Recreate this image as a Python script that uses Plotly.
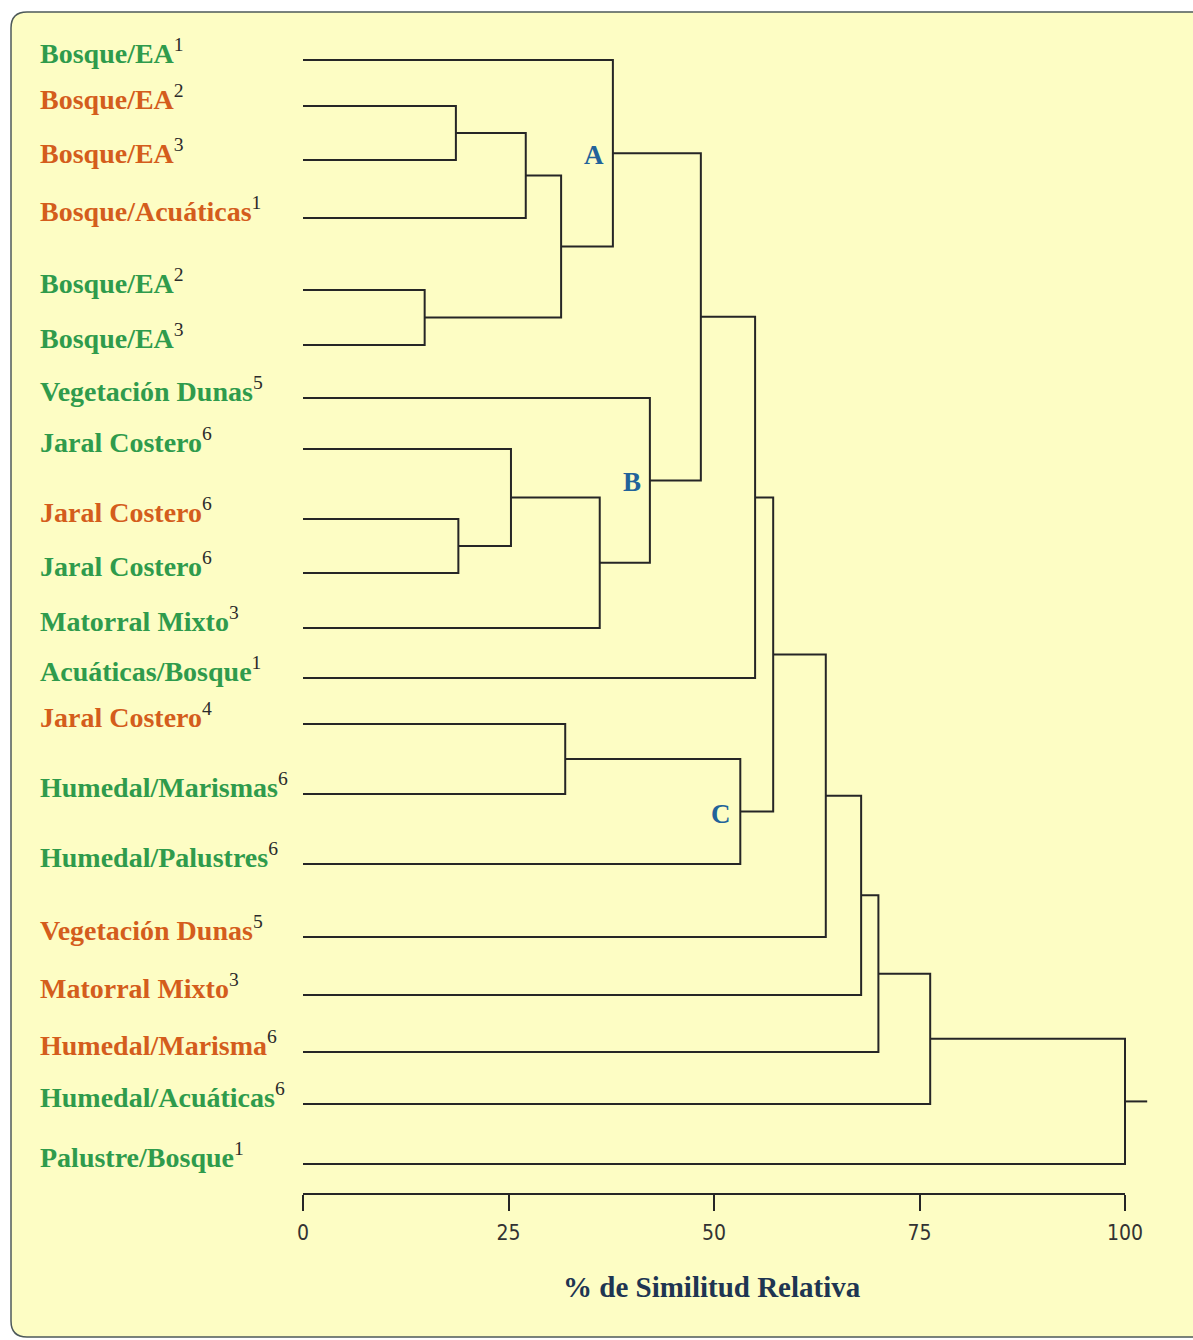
import plotly.graph_objects as go

# ---- leaves (top to bottom) -------------------------------------------
leaf_names = [
    "Bosque/EA", "Bosque/EA", "Bosque/EA", "Bosque/Acuáticas",
    "Bosque/EA", "Bosque/EA", "Vegetación Dunas", "Jaral Costero",
    "Jaral Costero", "Jaral Costero", "Matorral Mixto", "Acuáticas/Bosque",
    "Jaral Costero", "Humedal/Marismas", "Humedal/Palustres",
    "Vegetación Dunas", "Matorral Mixto", "Humedal/Marisma",
    "Humedal/Acuáticas", "Palustre/Bosque",
]
leaf_refs = ["1", "2", "3", "1", "2", "3", "5", "6", "6", "6",
             "3", "1", "4", "6", "6", "5", "3", "6", "6", "1"]
leaf_group = ["g", "o", "o", "o", "g", "g", "g", "g", "o", "g",
              "g", "g", "o", "g", "g", "o", "o", "o", "g", "g"]

# ---- linkage: (left node, right node, % relative similarity) ----------
# node ids 0..19 are leaves, 20+ are the clusters in creation order
merge_left = [1, 20, 4, 21, 0, 8, 7, 26, 6, 24, 29, 12, 31, 30, 33, 34, 35, 36, 37]
merge_right = [2, 3, 5, 22, 23, 9, 25, 10, 27, 28, 11, 13, 14, 32, 15, 16, 17, 18, 19]
merge_height = [18.6, 27.1, 14.8, 31.4, 37.7, 18.9, 25.3, 36.1, 42.2, 48.4,
                 55.0, 31.9, 53.2, 57.2, 63.6, 67.9, 70.0, 76.3, 100.0]

# cluster names written beside their junction
cluster_names = {24: "A", 28: "B", 32: "C"}

axis_ticks = [0, 25, 50, 75, 100]
axis_title = "% de Similitud Relativa"

# ---- layout constants ---------------------------------------------------
W, H = 1193, 1340
ROW_Y = [60, 106, 160, 218, 290, 345, 398, 449, 519, 573,
         628, 678, 724, 794, 864, 937, 995, 1052, 1104, 1164]
AXIS_PX = 1193            # vertical pixel of the similarity axis
X0_PX, X100_PX = 303, 1125
PX_PER_UNIT = (X100_PX - X0_PX) / 100.0
X_RANGE = [-X0_PX / PX_PER_UNIT, (W - X0_PX) / PX_PER_UNIT]
ROOT_TAIL = 2.7

GREEN = "#2f9b4c"
ORANGE = "#d45d1c"
LINE = "#262626"
BLUE = "#22639a"
BG = "#fdfdc4"
SERIF = "Liberation Serif, Times New Roman, serif"

colour = {"g": GREEN, "o": ORANGE}

# ---- dendrogram geometry ------------------------------------------------
n = len(leaf_names)
node_x = {i: 0.0 for i in range(n)}
node_y = {i: ROW_Y[i] for i in range(n)}

xs, ys = [], []
for k, (a, b, h) in enumerate(zip(merge_left, merge_right, merge_height)):
    xs += [node_x[a], h, h, node_x[b], None]
    ys += [node_y[a], node_y[a], node_y[b], node_y[b], None]
    node_x[n + k] = h
    node_y[n + k] = (node_y[a] + node_y[b]) / 2.0

root = n + len(merge_height) - 1
xs += [node_x[root], node_x[root] + ROOT_TAIL, None]
ys += [node_y[root], node_y[root], None]

fig = go.Figure()
fig.add_trace(go.Scatter(
    x=xs, y=ys, mode="lines",
    line=dict(color=LINE, width=2),
    hoverinfo="skip", showlegend=False,
))
# invisible trace that carries the similarity scale axis
fig.add_trace(go.Scatter(
    x=[axis_ticks[0], axis_ticks[-1]], y=[AXIS_PX, AXIS_PX],
    xaxis="x2", yaxis="y", mode="lines",
    line=dict(width=0), hoverinfo="skip", showlegend=False,
))

annotations = []
for name, ref, grp, yv in zip(leaf_names, leaf_refs, leaf_group, ROW_Y):
    annotations.append(dict(
        x=38 / W, xref="paper", xanchor="left",
        y=yv, yref="y", yanchor="middle", yshift=9,
        text=f"<b>{name}</b><sup><span style='color:#2b2b2b'>{ref}</span></sup>",
        showarrow=False,
        font=dict(family=SERIF, size=28, color=colour[grp]),
    ))

for node, letter in cluster_names.items():
    annotations.append(dict(
        x=node_x[node], xref="x", xanchor="right", xshift=-7,
        y=node_y[node], yref="y", yanchor="middle", yshift=-2,
        text=f"<b>{letter}</b>", showarrow=False,
        font=dict(family=SERIF, size=27, color=BLUE),
    ))

annotations.append(dict(
    x=712 / W, xref="paper", y=1 - 1287 / H, yref="paper",
    xanchor="center", yanchor="middle",
    text=f"<b>{axis_title}</b>", showarrow=False,
    font=dict(family=SERIF, size=29, color="#1e3552"),
))

# pale yellow card with rounded corners
x0, x1 = 11 / W, 1.01
yt, yb = 1 - 12 / H, 1 - 1337 / H
rx, ry = 16 / W, 16 / H
card = (f"M {x0 + rx},{yt} L {x1},{yt} L {x1},{yb} L {x0 + rx},{yb} "
        f"Q {x0},{yb} {x0},{yb + ry} L {x0},{yt - ry} Q {x0},{yt} {x0 + rx},{yt} Z")

fig.update_layout(
    width=W, height=H, autosize=False,
    margin=dict(l=0, r=0, t=0, b=0, pad=0, autoexpand=False),
    paper_bgcolor="white",
    plot_bgcolor="rgba(0,0,0,0)",
    shapes=[dict(type="path", path=card, xref="paper", yref="paper",
                 fillcolor=BG, line=dict(color="#4d5959", width=1.5),
                 layer="below")],
    annotations=annotations,
    xaxis=dict(domain=[0, 1], range=X_RANGE, visible=False, fixedrange=True,
               automargin=False),
    xaxis2=dict(
        domain=[X0_PX / W, X100_PX / W], range=[axis_ticks[0], axis_ticks[-1]],
        anchor="y", showline=True, linecolor=LINE, linewidth=2,
        ticks="outside", ticklen=16, tickwidth=2, tickcolor=LINE,
        tickvals=axis_ticks, ticktext=[str(t) for t in axis_ticks],
        tickfont=dict(family="Liberation Sans Narrow, DejaVu Sans Condensed, sans-serif",
                      size=21, color="#333"),
        ticklabelstandoff=4, automargin=False,
        showgrid=False, zeroline=False, fixedrange=True,
    ),
    yaxis=dict(domain=[1 - AXIS_PX / H, 1], range=[AXIS_PX, 0],
               visible=False, fixedrange=True, automargin=False),
)

fig.write_html("out.html", config={"responsive": False})
